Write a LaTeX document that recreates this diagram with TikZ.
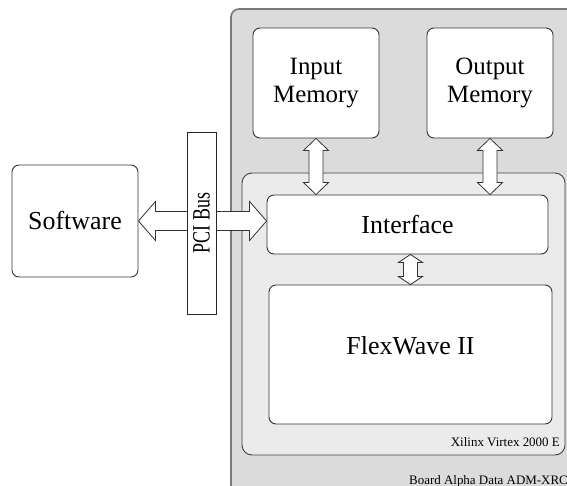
\documentclass[tikz,border=0pt]{standalone}
\usepackage{fontspec}
\setmainfont{Liberation Serif}
\usetikzlibrary{calc}

% block double arrows: #1 tip, #2 tip, #3 shaft half width, #4 head half width, #5 head length
\newcommand{\vbiarrow}[5]{%
  \draw[blockarrow] (#1) -- ++(#4,#5) -- ++(#3-#4,0) -- ($(#2)+(#3,-#5)$) -- ++(#4-#3,0) -- (#2)
    -- ++(-#4,-#5) -- ++(#4-#3,0) -- ($(#1)+(-#3,#5)$) -- ++(#3-#4,0) -- cycle;}
\newcommand{\hbiarrow}[5]{%
  \draw[blockarrow] (#1) -- ++(#5,-#4) -- ++(0,#4-#3) -- ($(#2)+(-#5,-#3)$) -- ++(0,#3-#4) -- (#2)
    -- ++(-#5,#4) -- ++(0,#3-#4) -- ($(#1)+(#5,#3)$) -- ++(0,#4-#3) -- cycle;}

\begin{document}
\begin{tikzpicture}[
  x=1bp, y=-1bp,
  boardbox/.style={draw=gray!95!black, fill=gray!28, line width=1.6pt, rounded corners=8bp},
  chipbox/.style={draw=black!75, fill=gray!16, line width=0.9pt, rounded corners=10bp,
                  inner sep=0pt},
  unitbox/.style={draw=black!80, fill=white, line width=0.9pt, rounded corners=7bp, inner sep=0pt},
  busbox/.style={draw=black!85, fill=white, line width=0.8pt, inner sep=0pt},
  blockarrow/.style={draw=black!80, fill=white, line width=0.8pt, line join=miter},
  bigtext/.style={font=\fontsize{26}{31}\selectfont},
  memtext/.style={font=\fontsize{25}{28}\selectfont, align=center},
  smalltext/.style={font=\fontsize{13}{15}\selectfont, inner sep=0pt}
]
  \useasboundingbox (0,0) rectangle (567,486);
  \clip (0,0) rectangle (567,486);
  % board and FPGA
  \draw[boardbox] (231,9) rectangle (640,540);
  \node[chipbox, minimum width=323bp, minimum height=282bp] (chip) at (403.5,314) {};
  % units
  \node[unitbox, memtext, minimum width=126bp, minimum height=110bp] (inmem) at (316,83) {Input\\Memory};
  \node[unitbox, memtext, minimum width=126bp, minimum height=110bp] (outmem) at (490,83) {Output\\Memory};
  \node[unitbox, bigtext, minimum width=281bp, minimum height=59bp] (iface) at (407.5,224.5) {Interface};
  \node[unitbox, minimum width=283bp, minimum height=139bp] (flex) at (410.5,354.5) {};
  \node[bigtext] (flexlbl) at ($(flex.center)+(0,-9)$) {FlexWave II};
  \node[unitbox, bigtext, minimum width=126bp, minimum height=112bp] (soft) at (75,221) {Software};
  % links
  \vbiarrow{inmem.south}{inmem.south |- iface.north}{7}{12.5}{12}
  \vbiarrow{outmem.south}{outmem.south |- iface.north}{7}{12.5}{12}
  \vbiarrow{flex.north |- iface.south}{flex.north}{7}{12}{8}
  \hbiarrow{soft.east}{iface.west |- soft.east}{9.5}{19.5}{17}
  % bus
  \node[busbox, minimum width=29bp, minimum height=182bp] (pci) at (201.5,223) {};
  \node[rotate=90, font=\fontsize{25}{28}\selectfont] (pcilbl) at (pci.center) {\scalebox{0.72}[1]{PCI Bus}};
  % names
  \node[smalltext, anchor=base east] (chiplbl) at (560,446) {Xilinx Virtex 2000 E};
  \node[smalltext, anchor=base east] (boardlbl) at (568,484) {Board Alpha Data ADM-XRC};
\end{tikzpicture}
\end{document}
